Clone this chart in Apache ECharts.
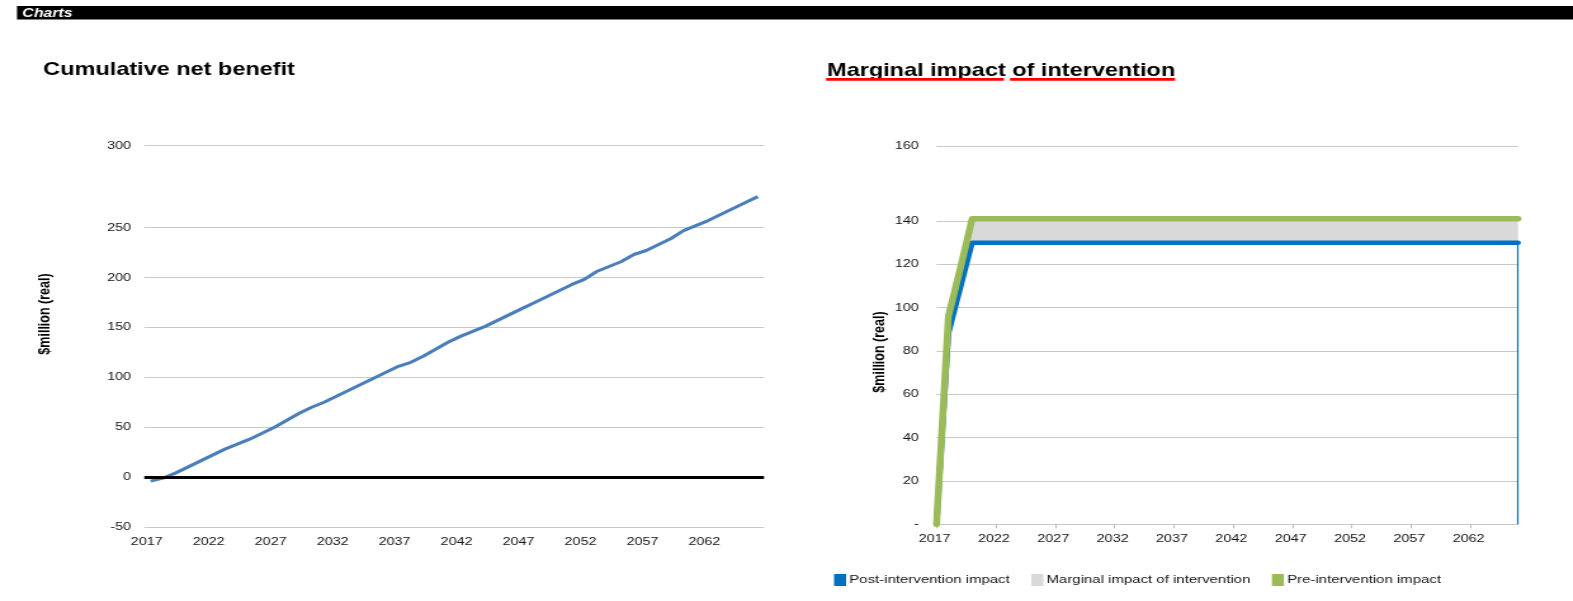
<!DOCTYPE html>
<html>
<head>
<meta charset="utf-8">
<title>Charts</title>
<script src="https://cdn.jsdelivr.net/npm/echarts@6/dist/echarts.min.js"></script>
<style>
  html, body { margin: 0; padding: 0; background: #fff; overflow: hidden; }
  #stage { width: 1573px; height: 601px; overflow: hidden; position: relative; }
  /* the sheet is laid out on a narrower canvas and widened to the page */
  #chart { width: 1240px; height: 601px; transform: scaleX(1.2685); transform-origin: 0 0; }
</style>
</head>
<body>
<div id="stage"><div id="chart"></div></div>
<script>
// ---- data ----------------------------------------------------------------
const years = [
  2017, 2018, 2019, 2020, 2021, 2022, 2023, 2024, 2025, 2026,
  2027, 2028, 2029, 2030, 2031, 2032, 2033, 2034, 2035, 2036,
  2037, 2038, 2039, 2040, 2041, 2042, 2043, 2044, 2045, 2046,
  2047, 2048, 2049, 2050, 2051, 2052, 2053, 2054, 2055, 2056,
  2057, 2058, 2059, 2060, 2061, 2062, 2063, 2064, 2065, 2066
];

// Cumulative net benefit, $million (real)
const netBenefit = [
   -4,  -1,   4,  10,  16,  22,  28,  33,  38,  44,
   50,  57,  64,  70,  75,  81,  87,  93,  99, 105,
  111, 115, 121, 128, 135, 141, 146, 151, 157, 163,
  169, 175, 181, 187, 193, 198, 206, 211, 216, 223,
  227, 233, 239, 247, 252, 257, 263, 269, 275, 281
];

// Marginal impact of intervention, $million (real)
const postImpact = [
    0,  88, 109, 130, 130, 130, 130, 130, 130, 130,
  130, 130, 130, 130, 130, 130, 130, 130, 130, 130,
  130, 130, 130, 130, 130, 130, 130, 130, 130, 130,
  130, 130, 130, 130, 130, 130, 130, 130, 130, 130,
  130, 130, 130, 130, 130, 130, 130, 130, 130, 130
];
const marginalImpact = [
   0,  8,  9, 11, 11, 11, 11, 11, 11, 11,
  11, 11, 11, 11, 11, 11, 11, 11, 11, 11,
  11, 11, 11, 11, 11, 11, 11, 11, 11, 11,
  11, 11, 11, 11, 11, 11, 11, 11, 11, 11,
  11, 11, 11, 11, 11, 11, 11, 11, 11, 11
];
const preImpact = [
    0,  96, 118, 141, 141, 141, 141, 141, 141, 141,
  141, 141, 141, 141, 141, 141, 141, 141, 141, 141,
  141, 141, 141, 141, 141, 141, 141, 141, 141, 141,
  141, 141, 141, 141, 141, 141, 141, 141, 141, 141,
  141, 141, 141, 141, 141, 141, 141, 141, 141, 141
];

// value-axis tick labels
const cnbTickValues = [-50, 0, 50, 100, 150, 200, 250];
const cnbTickLabels = ['-50', '0', '50', '100', '150', '200', '250', '300'];
const impactTickValues = [0, 20, 40, 60, 80, 100, 120, 140];
const impactTickLabels = ['-', '20', '40', '60', '80', '100', '120', '140', '160'];

const seriesNames = ['Post-intervention impact', 'Marginal impact of intervention', 'Pre-intervention impact'];

// ---- layout & style ------------------------------------------------------
const FONT = '"Liberation Sans", Arial, Helvetica, sans-serif';
const TEXT = '#141414';
const GRID = '#c9c9c9';
const CNB_TOP = 332;       // upper end of the left value range (top rule)
const IMPACT_TOP = 174.6;  // upper end of the right value range (top rule)

const cnbStops = cnbTickValues.concat(CNB_TOP);
const impactStops = impactTickValues.concat(IMPACT_TOP);
const labelFor = (stops, labels) => v => {
  const i = stops.findIndex(s => Math.abs(s - v) < 1e-6);
  return i < 0 ? '' : labels[i];
};
const cats = years.map(String);
const last = cats.length - 1;

const tickFont = { fontFamily: FONT, fontSize: 11.3, color: TEXT };

const option = {
  animation: false,
  backgroundColor: '#ffffff',
  textStyle: { fontFamily: FONT },
  grid: [
    { left: 113.8, top: 145.7, width: 488.5, height: 381.3, containLabel: false },
    { left: 738.3, top: 146, width: 458.4, height: 378.3, containLabel: false }
  ],
  xAxis: [
    {
      gridIndex: 0, type: 'category', data: cats, boundaryGap: true,
      axisLine: { show: false }, axisTick: { show: false },
      axisLabel: Object.assign({ interval: 4, margin: 9.5, padding: [0, 6, 0, 0] }, tickFont),
      splitLine: { show: false }
    },
    {
      gridIndex: 1, type: 'category', data: cats, boundaryGap: false,
      axisLine: { show: true, lineStyle: { color: GRID, width: 1 } },
      axisTick: { show: true, interval: 4, length: 4, lineStyle: { color: '#bcbcbc' } },
      axisLabel: Object.assign({ interval: 4, margin: 9.5, padding: [0, 3, 0, 0] }, tickFont),
      splitLine: { show: false }
    }
  ],
  yAxis: [
    {
      gridIndex: 0, type: 'value', min: -50, max: CNB_TOP,
      axisLine: { show: false },
      axisTick: { show: false, customValues: cnbStops },
      axisLabel: Object.assign({ customValues: cnbStops, margin: 10.5,
        formatter: labelFor(cnbStops, cnbTickLabels) }, tickFont),
      splitLine: { show: true, lineStyle: { color: GRID, width: 1 } }
    },
    {
      gridIndex: 1, type: 'value', min: 0, max: IMPACT_TOP,
      axisLine: { show: false },
      axisTick: { show: false, customValues: impactStops },
      axisLabel: Object.assign({ customValues: impactStops, margin: 14,
        formatter: labelFor(impactStops, impactTickLabels) }, tickFont),
      splitLine: { show: true, lineStyle: { color: GRID, width: 1 } }
    }
  ],
  legend: {
    data: seriesNames,
    left: 657.5, top: 574, padding: 0,
    icon: 'rect', itemWidth: 9.5, itemHeight: 12, itemGap: 17,
    selectedMode: false,
    textStyle: { fontFamily: FONT, fontSize: 11.8, color: TEXT, padding: [0, 0, 0, -2.5] }
  },
  series: [
    {
      // zero rule of the cumulative chart
      type: 'line', xAxisIndex: 0, yAxisIndex: 0, data: [], z: 1,
      silent: true,
      markLine: {
        silent: true, symbol: 'none', label: { show: false },
        lineStyle: { color: '#000', width: 3, type: 'solid' },
        data: [{ yAxis: 0 }]
      }
    },
    {
      name: 'Cumulative net benefit',
      type: 'line', xAxisIndex: 0, yAxisIndex: 0, z: 3,
      data: netBenefit, symbol: 'none', silent: true,
      color: '#4a7ebb',
      lineStyle: { color: '#4a7ebb', width: 3, join: 'round' }
    },
    {
      name: seriesNames[0],
      type: 'line', xAxisIndex: 1, yAxisIndex: 1, z: 4,
      stack: 'impact', data: postImpact, symbol: 'none', silent: true,
      color: '#0070c0', itemStyle: { color: '#0070c0' },
      lineStyle: { color: '#0070c0', width: 4.5, cap: 'round', join: 'round' },
      markLine: {
        silent: true, symbol: 'none', label: { show: false },
        lineStyle: { color: '#0070c0', width: 1.2, type: 'solid' },
        data: [[{ coord: [last, 0] }, { coord: [last, postImpact[last]] }]]
      }
    },
    {
      name: seriesNames[1],
      type: 'line', xAxisIndex: 1, yAxisIndex: 1, z: 2,
      stack: 'impact', data: marginalImpact, symbol: 'none', silent: true,
      color: '#d9d9d9', itemStyle: { color: '#d9d9d9' },
      lineStyle: { width: 0, color: '#d9d9d9' },
      areaStyle: { color: '#d9d9d9', opacity: 1 }
    },
    {
      name: seriesNames[2],
      type: 'line', xAxisIndex: 1, yAxisIndex: 1, z: 5,
      data: preImpact, symbol: 'none', silent: true,
      color: '#9bbb59', itemStyle: { color: '#9bbb59' },
      lineStyle: { color: '#9bbb59', width: 5.5, cap: 'round', join: 'round' }
    }
  ],
  graphic: [
    { type: 'rect', silent: true, shape: { x: 13.4, y: 6, width: 1240, height: 13.5 }, style: { fill: '#000' } },
    { type: 'text', silent: true, x: 17.6, y: 13.2,
      style: { text: 'Charts', fill: '#fff', fontFamily: FONT, fontSize: 12.5, fontWeight: 'bold', fontStyle: 'italic', verticalAlign: 'middle' } },
    { type: 'text', silent: true, x: 34.1, y: 70,
      style: { text: 'Cumulative net benefit', fill: '#000', fontFamily: FONT, fontSize: 18.5, fontWeight: 'bold', verticalAlign: 'middle' } },
    { type: 'text', silent: true, x: 652, y: 71,
      style: { text: 'Marginal impact of intervention', fill: '#000', fontFamily: FONT, fontSize: 18.5, fontWeight: 'bold', verticalAlign: 'middle' } },
    { type: 'rect', silent: true, shape: { x: 651.2, y: 78, width: 140.3, height: 2.8 }, style: { fill: '#ff0000' } },
    { type: 'rect', silent: true, shape: { x: 796.2, y: 78, width: 130.1, height: 2.8 }, style: { fill: '#ff0000' } },
    { type: 'text', silent: true, x: 35.5, y: 314, rotation: Math.PI / 2,
      style: { text: '$million (real)', fill: '#000', fontFamily: FONT, fontSize: 12.5, fontWeight: 'bold', align: 'center', verticalAlign: 'middle' } },
    { type: 'text', silent: true, x: 694, y: 352, rotation: Math.PI / 2,
      style: { text: '$million (real)', fill: '#000', fontFamily: FONT, fontSize: 12.5, fontWeight: 'bold', align: 'center', verticalAlign: 'middle' } }
  ]
};

const chart = echarts.init(document.getElementById('chart'), null, { renderer: 'canvas' });
chart.setOption(option);
</script>
</body>
</html>
